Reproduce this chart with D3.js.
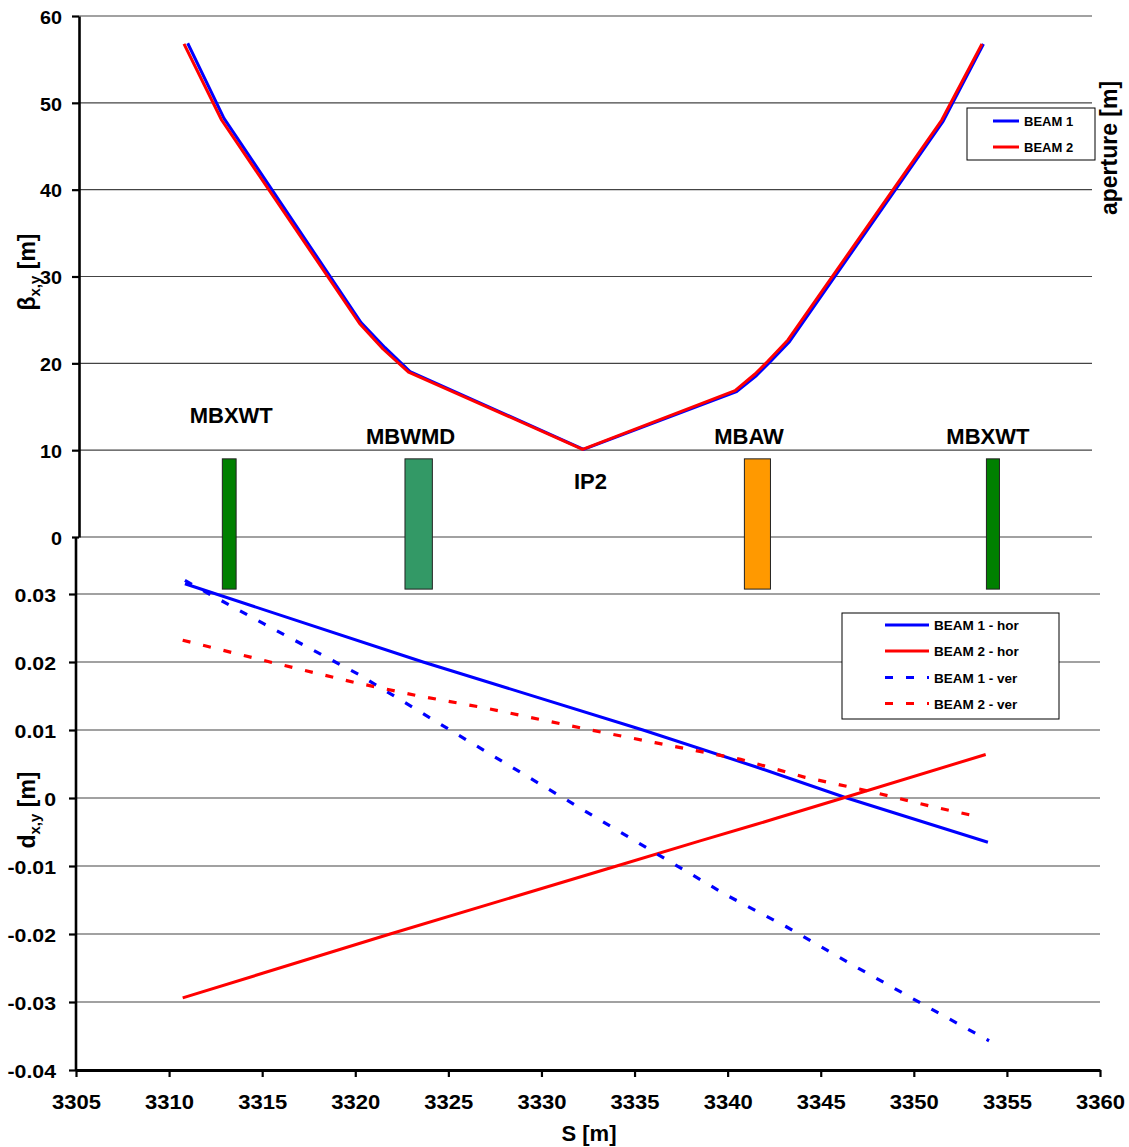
<!DOCTYPE html>
<html><head><meta charset="utf-8">
<script src="https://cdn.jsdelivr.net/npm/d3@7"></script>
<style>
html,body{margin:0;padding:0;background:#fff;}
svg{display:block;font-family:"Liberation Sans",Arial,sans-serif;font-weight:bold;}
</style></head>
<body><svg id="c" width="1129" height="1147"></svg>
<script>
// ---------- DATA ----------
const xTicks = [3305,3310,3315,3320,3325,3330,3335,3340,3345,3350,3355,3360];
const betaTicks = [0,10,20,30,40,50,60];
const dTicks = [-0.04,-0.03,-0.02,-0.01,0,0.01,0.02,0.03];
const dTickLabels = ["-0.04","-0.03","-0.02","-0.01","0","0.01","0.02","0.03"];

// beta functions (upper panel)
const beam1S    = [3311.0,3312.95,3320.31,3321.6,3322.94,3332.26,3340.48,3341.55,3342.25,3343.32,3351.58,3353.74];
const beam1Beta = [56.86,48.22,24.7,21.8,19.06,10.1,16.75,18.6,20.1,22.5,47.9,56.78];
const beam2S    = [3310.8,3312.82,3320.23,3321.49,3322.86,3332.21,3340.40,3341.47,3342.17,3343.24,3351.5,3353.66];
const beam2Beta = [56.78,48.02,24.59,21.65,19.0,10.1,16.85,18.77,20.27,22.69,48.02,56.78];

// dispersion (lower panel)
const b1HorS = [3310.85,3323.64,3335.45,3341.5,3346.4,3353.98];
const b1HorD = [0.0315,0.0200,0.0100,0.0046,0.0000,-0.0065];
const b2HorS = [3310.73,3321.87,3334.04,3338.52,3341.5,3342.7,3346.2,3353.86];
const b2HorD = [-0.0294,-0.0200,-0.0100,-0.0063,-0.0039,-0.0029,0.0000,0.0064];
const b1VerS = [3310.85,3312.09,3315.1,3320.16,3325.18,3330.1,3335.02,3339.95,3343.13,3347.0,3351.05,3354.04];
const b1VerD = [0.0320,0.0301,0.0256,0.0182,0.00985,0.00176,-0.0063,-0.0143,-0.0189,-0.0250,-0.0312,-0.0357];
const b2VerS = [3310.73,3315.42,3319.95,3323.42,3326.91,3332.64,3336.1,3340.7,3344.16,3347.56,3351.01,3353.29];
const b2VerD = [0.0232,0.0200,0.0170,0.0150,0.01328,0.0100,0.00814,0.00569,0.00304,0.00103,-0.00128,-0.00265];

// magnets
const magnetStart = [3312.86,3322.67,3340.9,3353.9];
const magnetEnd   = [3313.6,3324.14,3342.3,3354.6];
const magnetColors = ["#008000","#339966","#FF9900","#008000"];
const magnetTop = 9, magnetBottom = -6;

// annotations (label text, s centre, beta baseline)
const annotText = ["MBXWT","MBWMD","IP2","MBAW","MBXWT"];
const annotS    = [3313.34,3322.97,3332.63,3341.15,3353.98];
const annotBeta = [13.1,10.7,5.5,10.7,10.7];

const legendTop = ["BEAM 1","BEAM 2"];
const legendBottom = ["BEAM 1 - hor","BEAM 2 - hor","BEAM 1 - ver","BEAM 2 - ver"];

// ---------- LAYOUT ----------
const svg = d3.select("#c");
const BLUE = "#0000FF", RED = "#FF0000";
const x = d3.scaleLinear().domain([3305,3360]).range([76,1100]);
const yTop = d3.scaleLinear().domain([0,60]).range([537,16]);
const yBot = d3.scaleLinear().domain([-0.04,0.03]).range([1070,594]);
const topLeft = 79, topRight = 1092;

// gridlines upper
svg.append("g").selectAll("line").data(betaTicks).join("line")
  .attr("x1",topLeft).attr("x2",topRight)
  .attr("y1",d=>yTop(d)).attr("y2",d=>yTop(d))
  .attr("stroke","#444").attr("stroke-width",1.2);
// gridlines lower
svg.append("g").selectAll("line").data(dTicks.filter(d=>d>-0.04)).join("line")
  .attr("x1",76).attr("x2",1100)
  .attr("y1",d=>yBot(d)).attr("y2",d=>yBot(d))
  .attr("stroke","#444").attr("stroke-width",1.2);

// lines lower panel
const lineD = (S,D)=>d3.line().x((d,i)=>x(S[i])).y((d,i)=>yBot(D[i]))(S);
svg.append("path").attr("d",lineD(b1HorS,b1HorD)).attr("fill","none").attr("stroke",BLUE).attr("stroke-width",3);
svg.append("path").attr("d",lineD(b2HorS,b2HorD)).attr("fill","none").attr("stroke",RED).attr("stroke-width",3);
svg.append("path").attr("d",lineD(b1VerS,b1VerD)).attr("fill","none").attr("stroke",BLUE).attr("stroke-width",3.2).attr("stroke-dasharray","8,13");
svg.append("path").attr("d",lineD(b2VerS,b2VerD)).attr("fill","none").attr("stroke",RED).attr("stroke-width",3.2).attr("stroke-dasharray","8,13");

// magnets
svg.append("g").selectAll("rect").data(magnetStart).join("rect")
  .attr("x",(d,i)=>x(d)).attr("width",(d,i)=>x(magnetEnd[i])-x(d))
  .attr("y",yTop(magnetTop)).attr("height",yTop(magnetBottom)-yTop(magnetTop))
  .attr("fill",(d,i)=>magnetColors[i]).attr("stroke","#222").attr("stroke-width",1);

// beta lines
const lineB = (S,B)=>d3.line().x((d,i)=>x(S[i])).y((d,i)=>yTop(B[i]))(S);
svg.append("path").attr("d",lineB(beam1S,beam1Beta)).attr("fill","none").attr("stroke",BLUE).attr("stroke-width",3).attr("stroke-linejoin","round");
svg.append("path").attr("d",lineB(beam2S,beam2Beta)).attr("fill","none").attr("stroke",RED).attr("stroke-width",3).attr("stroke-linejoin","round");

// annotations
svg.append("g").selectAll("text").data(annotText).join("text")
  .attr("x",(d,i)=>x(annotS[i])).attr("y",(d,i)=>yTop(annotBeta[i]))
  .attr("text-anchor","middle").attr("font-size",22).text(d=>d);

// upper y axis
const axTop = svg.append("g").attr("transform",`translate(${topLeft},0)`)
  .call(d3.axisLeft(yTop).tickValues(betaTicks).tickSize(7).tickSizeOuter(0).tickFormat(d=>d));
axTop.select(".domain").attr("stroke","#000").attr("stroke-width",2.6);
axTop.selectAll(".tick line").attr("stroke","#000").attr("stroke-width",2.2);
axTop.selectAll(".tick text").attr("x",0).attr("dy","0.36em")
  .attr("transform","translate(-17,1) scale(1.13,1)")
  .attr("font-size",17.5).attr("font-family","Liberation Sans, Arial").attr("font-weight","bold").attr("fill","#000");

// lower y axis
const axBot = svg.append("g").attr("transform","translate(76,0)")
  .call(d3.axisLeft(yBot).tickValues(dTicks).tickSize(7).tickSizeOuter(0).tickFormat((d,i)=>dTickLabels[i]));
axBot.select(".domain").remove();
axBot.append("line").attr("x1",0).attr("x2",0).attr("y1",yTop(0)).attr("y2",1071).attr("stroke","#000").attr("stroke-width",2.6);
axBot.selectAll(".tick line").attr("stroke","#000").attr("stroke-width",2.2);
axBot.selectAll(".tick text").attr("x",0).attr("dy","0.36em")
  .attr("transform","translate(-20,1) scale(1.12,1)")
  .attr("font-size",19).attr("font-family","Liberation Sans, Arial").attr("font-weight","bold").attr("fill","#000");

// x axis
const axX = svg.append("g").attr("transform","translate(0,1070)")
  .call(d3.axisBottom(x).tickValues(xTicks).tickSize(7).tickSizeOuter(0).tickFormat(d=>d));
axX.select(".domain").attr("stroke","#000").attr("stroke-width",3);
axX.selectAll(".tick line").attr("stroke","#000").attr("stroke-width",2.2);
axX.selectAll(".tick text").attr("y",0).attr("dy",0)
  .attr("transform","translate(0,39) scale(1.13,1)")
  .attr("font-size",19.5).attr("font-family","Liberation Sans, Arial").attr("font-weight","bold").attr("fill","#000");

// axis titles
svg.append("text").attr("x",589).attr("y",1141).attr("text-anchor","middle").attr("font-size",22).text("S [m]");
const bt = svg.append("text").attr("transform","translate(35,272) rotate(-90)").attr("text-anchor","middle").attr("font-size",23);
bt.append("tspan").text("β");
bt.append("tspan").attr("font-size",15).attr("dy",5).text("x,y");
bt.append("tspan").attr("dy",-5).text(" [m]");
const dt = svg.append("text").attr("transform","translate(35,810) rotate(-90)").attr("text-anchor","middle").attr("font-size",23);
dt.append("tspan").text("d");
dt.append("tspan").attr("font-size",15).attr("dy",5).text("x,y");
dt.append("tspan").attr("dy",-5).text(" [m]");
svg.append("text").attr("transform","translate(1117,148) rotate(-90)").attr("text-anchor","middle").attr("font-size",23).text("aperture [m]");

// upper legend
const lg1 = svg.append("g");
lg1.append("rect").attr("x",967).attr("y",108).attr("width",128).attr("height",52).attr("fill","#fff").attr("stroke","#000").attr("stroke-width",1);
lg1.selectAll("line").data(legendTop).join("line")
  .attr("x1",993).attr("x2",1019).attr("y1",(d,i)=>121+i*26).attr("y2",(d,i)=>121+i*26)
  .attr("stroke",(d,i)=>i===0?BLUE:RED).attr("stroke-width",3);
lg1.selectAll("text").data(legendTop).join("text")
  .attr("x",1024).attr("y",(d,i)=>126+i*26).attr("font-size",13).text(d=>d);

// lower legend
const lg2 = svg.append("g");
lg2.append("rect").attr("x",842).attr("y",613).attr("width",217).attr("height",106).attr("fill","#fff").attr("stroke","#000").attr("stroke-width",1);
const lgY = [625,651,677.5,703.5];
lg2.selectAll("line").data(legendBottom).join("line")
  .attr("x1",885).attr("x2",929).attr("y1",(d,i)=>lgY[i]).attr("y2",(d,i)=>lgY[i])
  .attr("stroke",(d,i)=>i%2===0?BLUE:RED).attr("stroke-width",3)
  .attr("stroke-dasharray",(d,i)=>i>=2?"8,13":null);
lg2.selectAll("text").data(legendBottom).join("text")
  .attr("x",934).attr("y",(d,i)=>lgY[i]+5).attr("font-size",13.5).text(d=>d);
</script></body></html>
